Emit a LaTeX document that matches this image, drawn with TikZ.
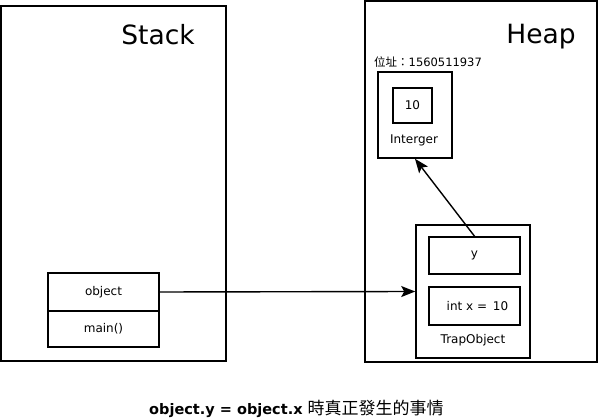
\documentclass[tikz,border=0pt]{standalone}
\usepackage{fontspec}
\setmainfont{DejaVu Sans}
\newfontfamily\cjk{Noto Sans CJK TC}
\usetikzlibrary{arrows.meta}
\tikzset{
  frame/.style={draw, line width=2pt, rectangle, inner sep=0pt},
  box/.style={draw, line width=1.6pt, rectangle, inner sep=0pt},
  lbl/.style={inner sep=0pt, font=\fontsize{12}{14}\selectfont},
  title/.style={inner sep=0pt, font=\fontsize{26.5}{30}\selectfont},
  conn/.style={line width=1.4pt, -{Stealth[length=14pt,width=11pt,inset=3pt]}}
}
\begin{document}
\begin{tikzpicture}[x=1pt,y=-1pt]
\useasboundingbox (0,0) rectangle (598,419);
% frames
\node[frame, minimum width=225pt, minimum height=355pt] (stack) at (113.5,183.5) {};
\node[frame, minimum width=232pt, minimum height=361pt] (heap) at (481,182) {};
\node[title] (stacklbl) at (158,35) {Stack};
\node[title] (heaplbl) at (541,37) {Heap};
% stack frame
\node[box, minimum width=111pt, minimum height=38pt, lbl] (object) at (103.5,292) {object};
\node[box, minimum width=111pt, minimum height=36pt, lbl] (main) at (103.5,329) {main()};
% heap: Interger
\node[anchor=west, inner sep=0pt, font=\fontsize{11.5}{13}\selectfont] (addr) at (374,62) {{\cjk 位址：}1560511937};
\node[box, minimum width=74pt, minimum height=86pt] (interger) at (415,115) {};
\node[box, minimum width=39pt, minimum height=35pt, lbl] (ten) at (412.5,105.5) {10};
\node[lbl] (intlbl) at (414,140) {Interger};
% heap: TrapObject
\node[box, minimum width=114pt, minimum height=133pt] (trap) at (473,291.5) {};
\node[box, minimum width=91pt, minimum height=37pt, lbl] (ybox) at (474.5,255.5) {y};
\node[box, minimum width=91pt, minimum height=38pt, lbl] (xbox) at (474.5,306) {\hspace*{6pt}int x = \,10};
\node[lbl] (traplbl) at (473,340) {TrapObject};
% connectors
\draw[conn] (object.east) -- (trap.west);
\draw[conn] (ybox.north) -- (interger.south);
% caption
\node[anchor=west, inner sep=0pt] (caption) at (149,409) {\fontsize{14.5}{17}\selectfont\bfseries object.y = object.x {\cjk\mdseries\fontsize{17}{20}\selectfont 時真正發生的事情}};
\end{tikzpicture}
\end{document}
